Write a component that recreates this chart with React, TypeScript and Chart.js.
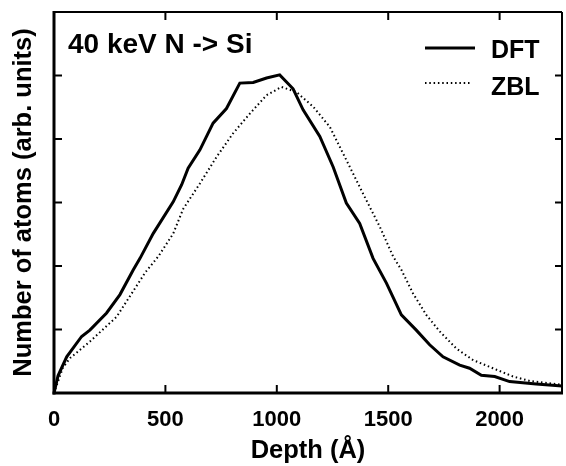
import React, { useEffect, useRef } from 'react';
import { Chart, registerables } from 'chart.js';

Chart.register(...registerables);

const FONT = '"Liberation Sans", Arial, Helvetica, sans-serif';

const dftDepth = [0, 18, 57, 124, 161, 236, 296, 356, 386, 445, 535, 573, 602, 655, 714, 774, 834, 894, 954, 1013, 1073, 1118, 1193, 1253, 1312, 1372, 1432, 1492, 1559, 1626, 1686, 1746, 1821, 1865, 1918, 1978, 2045, 2164, 2280];
const dftCounts = [0, 0.27, 0.57, 0.89, 0.99, 1.26, 1.55, 1.94, 2.12, 2.51, 3.01, 3.28, 3.54, 3.83, 4.25, 4.48, 4.88, 4.89, 4.96, 5.01, 4.79, 4.46, 4.04, 3.56, 2.99, 2.67, 2.12, 1.73, 1.23, 0.99, 0.76, 0.57, 0.44, 0.39, 0.28, 0.26, 0.18, 0.14, 0.11];

const zblDepth = [0, 40, 72, 161, 281, 410, 468, 535, 580, 655, 730, 804, 879, 954, 1021, 1088, 1163, 1238, 1312, 1387, 1462, 1522, 1559, 1611, 1671, 1731, 1806, 1880, 1970, 2060, 2135, 2280];
const zblCounts = [0, 0.4, 0.55, 0.81, 1.2, 1.9, 2.15, 2.51, 2.9, 3.3, 3.72, 4.09, 4.4, 4.69, 4.82, 4.74, 4.51, 4.19, 3.67, 3.14, 2.62, 2.15, 1.94, 1.57, 1.23, 0.97, 0.7, 0.52, 0.39, 0.26, 0.19, 0.13];

const seriesLabels = ['DFT', 'ZBL'];
const xTickValues = [0, 500, 1000, 1500, 2000];
const yTickValues = [0, 1, 2, 3, 4, 5, 6];
const xRange = [0, 2280];
const yRange = [0, 6];
const titleText = '40 keV N -> Si';
const xAxisTitle = 'Depth (Å)';
const yAxisTitle = 'Number of atoms (arb. units)';

const framePlugin = {
  id: 'framePlugin',
  afterDatasetsDraw(chart: any) {
    const { ctx, chartArea, scales } = chart;
    const { left, right, top, bottom } = chartArea;
    const x = scales.x;
    const y = scales.y;
    const line = (x1: number, y1: number, x2: number, y2: number) => {
      ctx.beginPath();
      ctx.moveTo(x1, y1);
      ctx.lineTo(x2, y2);
      ctx.stroke();
    };
    ctx.save();
    ctx.strokeStyle = '#000';
    ctx.lineCap = 'butt';
    ctx.setLineDash([]);
    ctx.lineWidth = 2;
    xTickValues.forEach((v) => {
      if (v <= x.min || v >= x.max) return;
      const px = x.getPixelForValue(v);
      line(px, bottom, px, bottom - 8);
      line(px, top, px, top + 8);
    });
    yTickValues.forEach((v) => {
      if (v <= y.min || v >= y.max) return;
      const py = y.getPixelForValue(v);
      line(left, py, left + 8, py);
      line(right, py, right - 7, py);
    });
    ctx.lineWidth = 3;
    line(left, top - 1, left, bottom + 1.5);
    line(left - 1.5, bottom, right + 1, bottom);
    ctx.lineWidth = 2;
    line(left, top, right, top);
    line(right, top, right, bottom);

    ctx.fillStyle = '#000';
    ctx.textBaseline = 'alphabetic';
    ctx.textAlign = 'left';
    ctx.font = `bold 28px ${FONT}`;
    ctx.fillText(titleText, left + 14, top + 41);

    ctx.font = `bold 25px ${FONT}`;
    chart.data.datasets.forEach((ds: any, i: number) => {
      const ly = top + 36 + i * 35;
      ctx.strokeStyle = ds.borderColor;
      ctx.lineWidth = ds.borderWidth;
      ctx.setLineDash(ds.borderDash || []);
      line(right - 137, ly, right - (i === 0 ? 87 : 92), ly);
      ctx.setLineDash([]);
      ctx.fillText(ds.label, right - 71, ly + 10 + i * 2);
    });
    ctx.restore();
  },
};

export default function App() {
  const canvasRef = useRef<HTMLCanvasElement | null>(null);

  useEffect(() => {
    document.body.style.margin = '0';
    const canvas = canvasRef.current;
    if (!canvas) return;
    const chart = new Chart(canvas, {
      type: 'line',
      data: {
        datasets: [
          {
            label: seriesLabels[0],
            data: dftDepth.map((d, i) => ({ x: d, y: dftCounts[i] })),
            borderColor: '#000',
            borderWidth: 3,
            pointRadius: 0,
            tension: 0,
            fill: false,
          },
          {
            label: seriesLabels[1],
            data: zblDepth.map((d, i) => ({ x: d, y: zblCounts[i] })),
            borderColor: '#000',
            borderWidth: 2,
            borderDash: [1.5, 2.8],
            pointRadius: 0,
            tension: 0,
            fill: false,
          },
        ],
      },
      options: {
        animation: false,
        responsive: false,
        devicePixelRatio: 1,
        layout: { padding: { top: 12, right: 4, left: 0, bottom: 0 } },
        plugins: {
          legend: { display: false },
          tooltip: { enabled: false },
          title: { display: false },
        },
        scales: {
          x: {
            type: 'linear',
            min: xRange[0],
            max: xRange[1],
            grid: { display: false, drawTicks: false },
            border: { display: false },
            afterBuildTicks: (scale: any) => {
              scale.ticks = xTickValues.map((v) => ({ value: v }));
            },
            afterFit: (scale: any) => {
              scale.height = 73;
            },
            ticks: {
              color: '#000',
              padding: 14,
              maxRotation: 0,
              font: { family: FONT, size: 22, weight: 'bold' },
              callback: (v: any) => String(v),
            },
            title: {
              display: true,
              text: xAxisTitle,
              color: '#000',
              font: { family: FONT, size: 25.5, weight: 'bold' },
              padding: { top: 0, bottom: 0 },
            },
          },
          y: {
            type: 'linear',
            min: yRange[0],
            max: yRange[1],
            grid: { display: false, drawTicks: false },
            border: { display: false },
            afterBuildTicks: (scale: any) => {
              scale.ticks = yTickValues.map((v) => ({ value: v }));
            },
            afterFit: (scale: any) => {
              scale.width = 54;
            },
            ticks: { display: false },
            title: {
              display: true,
              text: yAxisTitle,
              color: '#000',
              font: { family: FONT, size: 25.5, weight: 'bold' },
              padding: { top: 9, bottom: 0 },
            },
          },
        },
      },
      plugins: [framePlugin],
    } as any);
    return () => chart.destroy();
  }, []);

  return (
    <div style={{ width: 566, height: 466, background: '#fff' }}>
      <canvas ref={canvasRef} width={566} height={466} />
    </div>
  );
}
